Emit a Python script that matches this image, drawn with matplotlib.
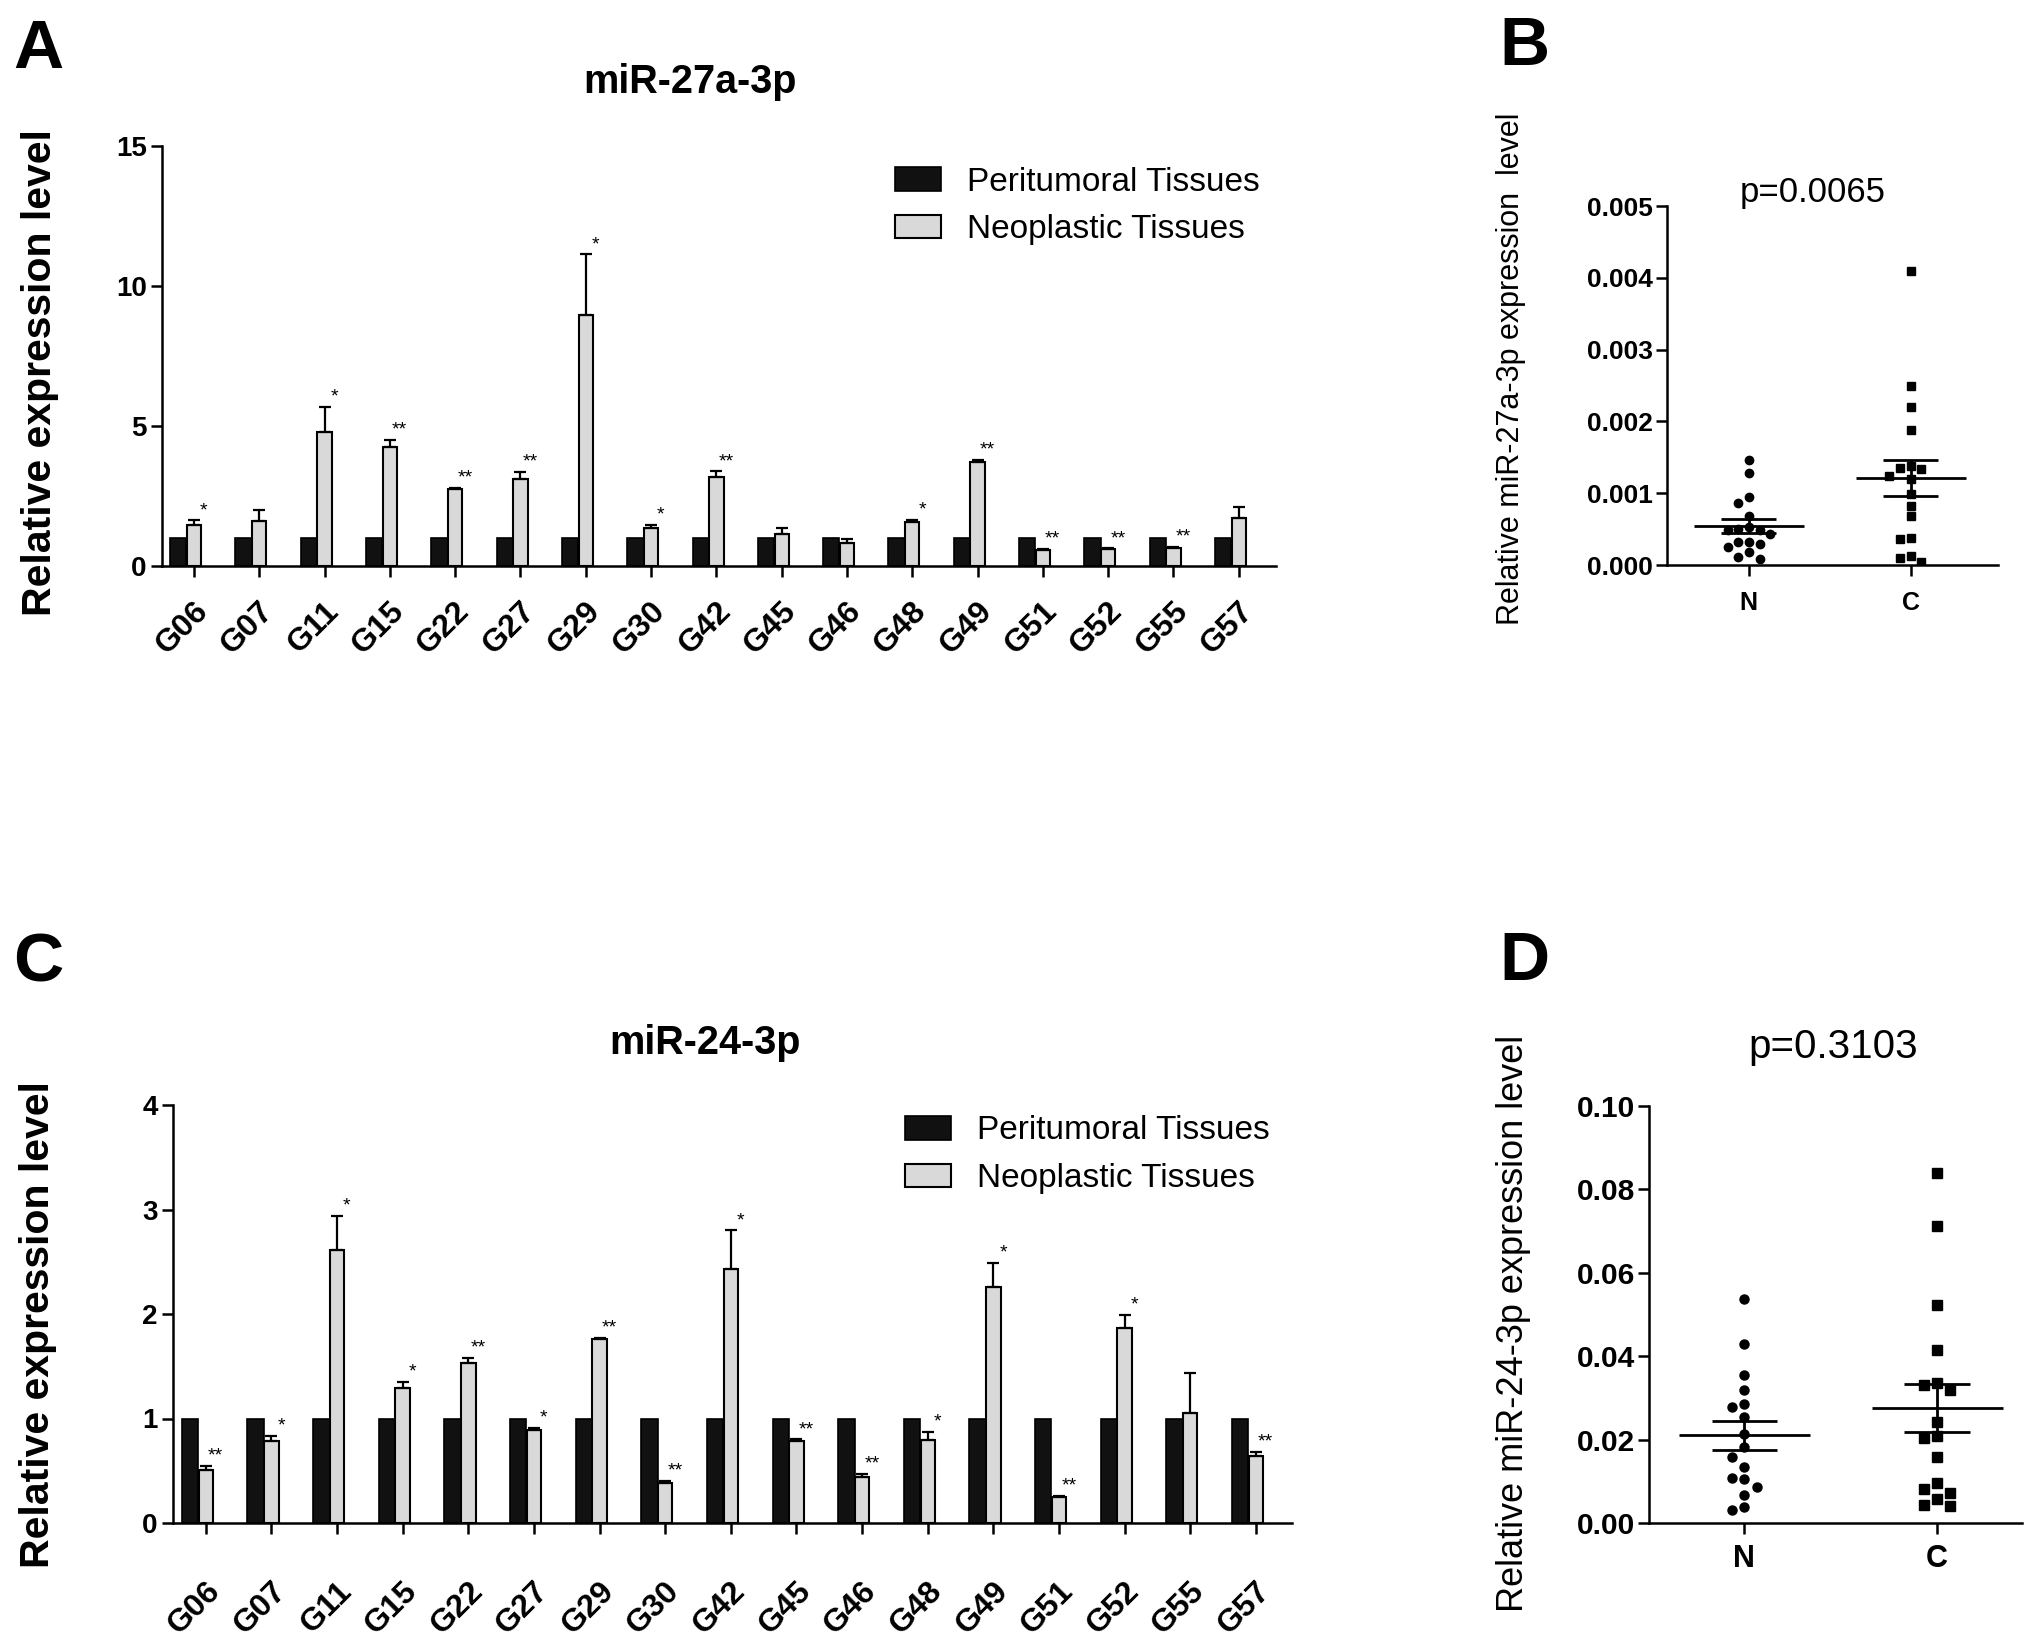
import numpy as np
import matplotlib
matplotlib.use('Agg')
import matplotlib.pyplot as plt
from matplotlib.patches import Patch
from matplotlib.ticker import FormatStrFormatter
from matplotlib.transforms import ScaledTranslation

plt.rcParams['font.family'] = ['Liberation Sans', 'DejaVu Sans']

## Data
samples = ['G06', 'G07', 'G11', 'G15', 'G22', 'G27', 'G29', 'G30', 'G42',
           'G45', 'G46', 'G48', 'G49', 'G51', 'G52', 'G55', 'G57']

# miR-27a-3p, relative to peritumoral tissue
peri_27a = [1.0] * 17
neo_27a = [1.48, 1.60, 4.78, 4.25, 2.75, 3.10, 8.97, 1.37, 3.17,
           1.16, 0.83, 1.56, 3.70, 0.57, 0.60, 0.63, 1.73]
err_27a = [0.15, 0.40, 0.90, 0.26, 0.03, 0.25, 2.16, 0.11, 0.21,
           0.21, 0.12, 0.09, 0.08, 0.03, 0.03, 0.05, 0.38]
sig_27a = ['*', '', '*', '**', '**', '**', '*', '*', '**',
           '', '', '*', '**', '**', '**', '**', '']

# miR-24-3p
peri_24 = [1.0] * 17
neo_24 = [0.51, 0.78, 2.61, 1.29, 1.53, 0.89, 1.76, 0.38, 2.43,
          0.78, 0.44, 0.79, 2.26, 0.25, 1.87, 1.05, 0.64]
err_24 = [0.04, 0.05, 0.33, 0.06, 0.05, 0.02, 0.01, 0.02, 0.37,
          0.02, 0.03, 0.08, 0.23, 0.01, 0.12, 0.39, 0.04]
sig_24 = ['**', '*', '*', '*', '**', '*', '**', '**', '*',
          '**', '**', '*', '*', '**', '*', '', '**']

# scatter panels (N = peritumoral, C = cancer)
b_N = [0.001465, 0.001288, 0.000953, 0.000860, 0.000684, 0.000530, 0.000488,
       0.000428, 0.000488, 0.000498, 0.000326, 0.000288, 0.000256, 0.000321,
       0.000177, 0.000084, 0.000116]
b_C = [0.00410, 0.00250, 0.00220, 0.001874, 0.00134, 0.001377, 0.001349,
       0.001195, 0.001242, 0.000991, 0.000828, 0.000684, 0.000381, 0.000363,
       0.000126, 0.000102, 0.0000465]
d_N = [0.0537, 0.0430, 0.0354, 0.0319, 0.0277, 0.0286, 0.0255, 0.0214, 0.0183,
       0.0158, 0.0135, 0.0086, 0.0105, 0.0109, 0.0066, 0.0031, 0.0039]
d_C = [0.0840, 0.0713, 0.0522, 0.0414, 0.0331, 0.0335, 0.0318, 0.0242, 0.0208,
       0.0203, 0.0158, 0.0082, 0.0097, 0.0071, 0.0057, 0.0040, 0.0043]

## Layout helpers (pixel coords of the 2031x1652 canvas)
W, H = 2031, 1652
fig = plt.figure(figsize=(W / 100, H / 100), dpi=100)


def rect(l, r, t, b):
    return [l / W, 1 - b / H, (r - l) / W, (b - t) / H]


def fx(x):
    return x / W


def fy(y):
    return 1 - y / H


def style(ax):
    for s in ['top', 'right']:
        ax.spines[s].set_visible(False)
    for s in ['left', 'bottom']:
        ax.spines[s].set_linewidth(1.8)
    ax.tick_params(width=1.8, direction='out')


def bar_panel(ax, peri, neo, err, sig, ymax, ystep, xpad, legend_xy, label_pad):
    x = np.arange(len(samples))
    ax.bar(x - 0.24, peri, width=0.25, color='#111111', edgecolor='black', lw=1.2)
    ax.bar(x, neo, width=0.22, color='#d9d9d9', edgecolor='black', lw=1.5)
    ax.errorbar(x, neo, yerr=[np.zeros(len(x)), err], fmt='none', ecolor='black',
                elinewidth=1.6, capsize=4.5, capthick=1.6)
    for i in range(len(x)):
        if sig[i]:
            ax.annotate(sig[i], (x[i] + 0.15, neo[i] + err[i]), xytext=(0, 1),
                        textcoords='offset points', ha='center', va='bottom', fontsize=14)
    ax.set_xlim(-xpad[0], len(x) - 1 + xpad[1])
    ax.set_ylim(0, ymax)
    ax.set_yticks(np.arange(0, ymax + 0.01, ystep))
    ax.set_xticks(x)
    style(ax)
    ax.tick_params(axis='y', length=8, pad=3, labelsize=20)
    ax.tick_params(axis='x', length=8, pad=label_pad)
    for lab in ax.get_yticklabels():
        lab.set_fontweight('bold')
    ax.set_xticklabels(samples, rotation=45, ha='right', va='center', rotation_mode='anchor',
                       fontweight='bold', fontsize=23)
    shift = ScaledTranslation(0.10, 0, fig.dpi_scale_trans)
    for lab in ax.get_xticklabels():
        lab.set_transform(lab.get_transform() + shift)
    handles = [Patch(facecolor='#111111', edgecolor='black', lw=1.2),
               Patch(facecolor='#d9d9d9', edgecolor='black', lw=1.5)]
    ax.legend(handles, ['Peritumoral Tissues', 'Neoplastic Tissues'], loc='upper left',
              bbox_to_anchor=legend_xy, frameon=False, fontsize=24, borderpad=0,
              borderaxespad=0, handlelength=1.38, handleheight=0.72,
              handletextpad=0.78, labelspacing=0.5)


def swarm(vals, center, step, thr):
    vals = np.asarray(vals)
    xs = np.zeros(len(vals))
    placed = []
    for i in np.argsort(vals)[::-1]:
        for k in [0, -1, 1, -2, 2, -3, 3]:
            if all(not (s == k and abs(vals[i] - v) < thr) for v, s in placed):
                break
        placed.append((vals[i], k))
        xs[i] = center + k * step
    return xs


def scatter_panel(ax, n_vals, c_vals, ymax, ystep, fmt, xlim, ms, lab_size, tick_size, npad):
    for i, (vals, mk) in enumerate([(n_vals, 'o'), (c_vals, 's')]):
        vals = np.asarray(vals)
        xs = swarm(vals, i, 0.066, ymax * 0.027)
        ax.plot(xs, vals, mk, color='black', ms=ms, mec='black', lw=0)
        m = vals.mean()
        sem = vals.std(ddof=1) / np.sqrt(len(vals))
        ax.hlines(m, i - 0.34, i + 0.34, color='black', lw=2)
        ax.hlines([m - sem, m + sem], i - 0.17, i + 0.17, color='black', lw=2)
        ax.vlines(i, m - sem, m + sem, color='black', lw=2)
    ax.set_xlim(*xlim)
    ax.set_ylim(0, ymax)
    ax.set_yticks(np.arange(0, ymax + ystep / 2, ystep))
    ax.yaxis.set_major_formatter(FormatStrFormatter(fmt))
    ax.set_xticks([0, 1])
    ax.set_xticklabels(['N', 'C'], fontweight='bold', fontsize=lab_size)
    style(ax)
    ax.tick_params(axis='y', length=8, pad=2, labelsize=tick_size)
    ax.tick_params(axis='x', length=8, pad=npad)
    for lab in ax.get_yticklabels():
        lab.set_fontweight('bold')


## Panel A
axA = fig.add_axes(rect(162, 1276, 146, 566))
bar_panel(axA, peri_27a, neo_27a, err_27a, sig_27a, 15, 5, (0.49, 0.57), (0.658, 0.951), 21.5)

## Panel C
axC = fig.add_axes(rect(173, 1292, 1105, 1523))
bar_panel(axC, peri_24, neo_24, err_24, sig_24, 4, 1, (0.5, 0.55), (0.654, 0.975), 38)

## Panel B
axB = fig.add_axes(rect(1667, 1998, 206, 565))
scatter_panel(axB, b_N, b_C, 0.005, 0.001, '%.3f', (-0.506, 1.54), 6.0, 18, 19, 11)

## Panel D
axD = fig.add_axes(rect(1649, 2022, 1106, 1523))
scatter_panel(axD, d_N, d_C, 0.10, 0.02, '%.2f', (-0.495, 1.44), 6.5, 22, 21.5, 7)

## Texts
fig.text(fx(13), fy(68), 'A', fontsize=50, fontweight='bold', ha='left', va='baseline')
fig.text(fx(1499), fy(65), 'B', fontsize=50, fontweight='bold', ha='left', va='baseline')
fig.text(fx(13), fy(982), 'C', fontsize=50, fontweight='bold', ha='left', va='baseline')
fig.text(fx(1499), fy(980), 'D', fontsize=50, fontweight='bold', ha='left', va='baseline')

fig.text(fx(690), fy(93), 'miR-27a-3p', fontsize=28.5, fontweight='bold', ha='center', va='baseline')
fig.text(fx(705), fy(1054), 'miR-24-3p', fontsize=28.5, fontweight='bold', ha='center', va='baseline')

fig.text(fx(40), fy(373), 'Relative expression level', fontsize=29.5, fontweight='bold',
         rotation=90, ha='center', va='center')
fig.text(fx(38), fy(1325), 'Relative expression level', fontsize=29.5, fontweight='bold',
         rotation=90, ha='center', va='center')
fig.text(fx(1511), fy(369), 'Relative miR-27a-3p expression  level', fontsize=22,
         rotation=90, ha='center', va='center')
fig.text(fx(1514), fy(1323), 'Relative miR-24-3p expression level', fontsize=26,
         rotation=90, ha='center', va='center')

fig.text(fx(1813), fy(202), 'p=0.0065', fontsize=25, ha='center', va='baseline')
fig.text(fx(1833), fy(1058), 'p=0.3103', fontsize=29, ha='center', va='baseline')

fig.savefig('out.png', dpi=100)
